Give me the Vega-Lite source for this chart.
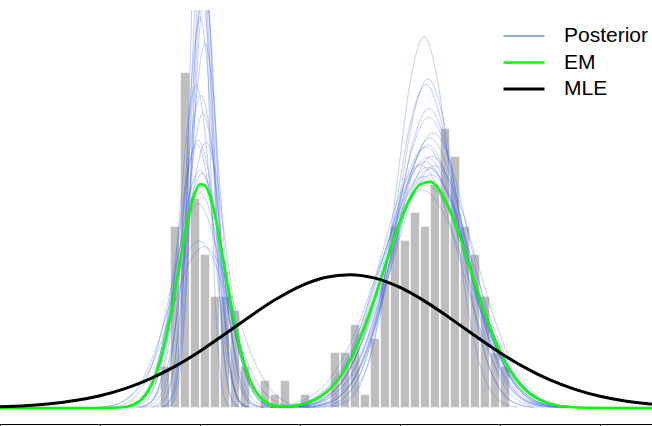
{
"$schema":"https://vega.github.io/schema/vega-lite/v6.json",
"width":652,"height":414,
"autosize":{"type":"none"},
"padding":{"top":10,"left":0,"right":0,"bottom":2},
"config":{"view":{"stroke":null}},
"datasets":{
"hist":[
{"b0":1.6,"b1":1.7,"d":0.1103},{"b0":1.7,"b1":1.8,"d":0.4779},{"b0":1.8,"b1":1.9,"d":0.8824},{"b0":1.9,"b1":2.0,"d":0.5515},{"b0":2.0,"b1":2.1,"d":0.4044},{"b0":2.1,"b1":2.2,"d":0.2941},{"b0":2.2,"b1":2.3,"d":0.2941},{"b0":2.3,"b1":2.4,"d":0.2574},{"b0":2.4,"b1":2.5,"d":0.1103},{"b0":2.6,"b1":2.7,"d":0.0735},{"b0":2.7,"b1":2.8,"d":0.0368},{"b0":2.8,"b1":2.9,"d":0.0735},{"b0":3.0,"b1":3.1,"d":0.0368},{"b0":3.3,"b1":3.4,"d":0.1471},{"b0":3.4,"b1":3.5,"d":0.1471},{"b0":3.5,"b1":3.6,"d":0.2206},{"b0":3.6,"b1":3.7,"d":0.0368},{"b0":3.7,"b1":3.8,"d":0.1838},{"b0":3.8,"b1":3.9,"d":0.3309},{"b0":3.9,"b1":4.0,"d":0.4779},{"b0":4.0,"b1":4.1,"d":0.4412},{"b0":4.1,"b1":4.2,"d":0.5147},{"b0":4.2,"b1":4.3,"d":0.4779},{"b0":4.3,"b1":4.4,"d":0.5882},{"b0":4.4,"b1":4.5,"d":0.7353},{"b0":4.5,"b1":4.6,"d":0.6618},{"b0":4.6,"b1":4.7,"d":0.4779},{"b0":4.7,"b1":4.8,"d":0.4044},{"b0":4.8,"b1":4.9,"d":0.2941},{"b0":4.9,"b1":5.0,"d":0.1471},{"b0":5.0,"b1":5.1,"d":0.1103}
],
"em":[
{"series":"EM","x":0,"y":0},{"series":"EM","x":0.5,"y":0},{"series":"EM","x":1.0,"y":0.0001},{"series":"EM","x":1.2,"y":0.0014},{"series":"EM","x":1.3,"y":0.0056},{"series":"EM","x":1.4,"y":0.0187},{"series":"EM","x":1.5,"y":0.0521},{"series":"EM","x":1.6,"y":0.1212},{"series":"EM","x":1.65,"y":0.1728},{"series":"EM","x":1.7,"y":0.2356},{"series":"EM","x":1.75,"y":0.3071},{"series":"EM","x":1.8,"y":0.3826},{"series":"EM","x":1.85,"y":0.4556},{"series":"EM","x":1.9,"y":0.5187},{"series":"EM","x":1.95,"y":0.5646},{"series":"EM","x":2.0,"y":0.5874},{"series":"EM","x":2.05,"y":0.5842},{"series":"EM","x":2.1,"y":0.5555},{"series":"EM","x":2.15,"y":0.5049},{"series":"EM","x":2.2,"y":0.4387},{"series":"EM","x":2.25,"y":0.3644},{"series":"EM","x":2.3,"y":0.2894},{"series":"EM","x":2.35,"y":0.2196},{"series":"EM","x":2.4,"y":0.1595},{"series":"EM","x":2.5,"y":0.0735},{"series":"EM","x":2.6,"y":0.0286},{"series":"EM","x":2.7,"y":0.01},{"series":"EM","x":2.8,"y":0.0045},{"series":"EM","x":2.9,"y":0.0048},{"series":"EM","x":3.0,"y":0.0087},{"series":"EM","x":3.1,"y":0.0163},{"series":"EM","x":3.2,"y":0.0293},{"series":"EM","x":3.3,"y":0.05},{"series":"EM","x":3.4,"y":0.081},{"series":"EM","x":3.5,"y":0.1246},{"series":"EM","x":3.6,"y":0.1819},{"series":"EM","x":3.7,"y":0.252},{"series":"EM","x":3.8,"y":0.3314},{"series":"EM","x":3.9,"y":0.4135},{"series":"EM","x":4.0,"y":0.4897},{"series":"EM","x":4.1,"y":0.5503},{"series":"EM","x":4.2,"y":0.5868},{"series":"EM","x":4.3,"y":0.594},{"series":"EM","x":4.4,"y":0.5705},{"series":"EM","x":4.5,"y":0.52},{"series":"EM","x":4.6,"y":0.4498},{"series":"EM","x":4.7,"y":0.3693},{"series":"EM","x":4.8,"y":0.2877},{"series":"EM","x":4.9,"y":0.2127},{"series":"EM","x":5.0,"y":0.1493},{"series":"EM","x":5.1,"y":0.0994},{"series":"EM","x":5.2,"y":0.0628},{"series":"EM","x":5.3,"y":0.0377},{"series":"EM","x":5.4,"y":0.0214},{"series":"EM","x":5.5,"y":0.0116},{"series":"EM","x":5.7,"y":0.0029},{"series":"EM","x":5.9,"y":0.0006},{"series":"EM","x":6.1,"y":0.0001},{"series":"EM","x":6.3,"y":0},{"series":"EM","x":6.52,"y":0}
],
"mle":[
{"series":"\u00a0MLE","x":0,"y":0.0032},{"series":"\u00a0MLE","x":0.25,"y":0.0062},{"series":"\u00a0MLE","x":0.5,"y":0.0112},{"series":"\u00a0MLE","x":0.75,"y":0.0195},{"series":"\u00a0MLE","x":1.0,"y":0.0323},{"series":"\u00a0MLE","x":1.25,"y":0.0509},{"series":"\u00a0MLE","x":1.5,"y":0.0765},{"series":"\u00a0MLE","x":1.75,"y":0.1094},{"series":"\u00a0MLE","x":2.0,"y":0.1493},{"series":"\u00a0MLE","x":2.25,"y":0.1941},{"series":"\u00a0MLE","x":2.5,"y":0.2405},{"series":"\u00a0MLE","x":2.75,"y":0.284},{"series":"\u00a0MLE","x":3.0,"y":0.3196},{"series":"\u00a0MLE","x":3.25,"y":0.3427},{"series":"\u00a0MLE","x":3.5,"y":0.3502},{"series":"\u00a0MLE","x":3.75,"y":0.3411},{"series":"\u00a0MLE","x":4.0,"y":0.3165},{"series":"\u00a0MLE","x":4.25,"y":0.28},{"series":"\u00a0MLE","x":4.5,"y":0.236},{"series":"\u00a0MLE","x":4.75,"y":0.1896},{"series":"\u00a0MLE","x":5.0,"y":0.1451},{"series":"\u00a0MLE","x":5.25,"y":0.1059},{"series":"\u00a0MLE","x":5.5,"y":0.0736},{"series":"\u00a0MLE","x":5.75,"y":0.0488},{"series":"\u00a0MLE","x":6.0,"y":0.0308},{"series":"\u00a0MLE","x":6.25,"y":0.0185},{"series":"\u00a0MLE","x":6.5,"y":0.0106},{"series":"\u00a0MLE","x":6.52,"y":0.0101}
],
"post":[
{"g":"1a","x":1.25,"y":0.0013},{"g":"1a","x":1.36,"y":0.0068},{"g":"1a","x":1.47,"y":0.0271},{"g":"1a","x":1.58,"y":0.0834},{"g":"1a","x":1.69,"y":0.2002},{"g":"1a","x":1.8,"y":0.3739},{"g":"1a","x":1.91,"y":0.5441},{"g":"1a","x":2.02,"y":0.6165},{"g":"1a","x":2.13,"y":0.5441},{"g":"1a","x":2.24,"y":0.3739},{"g":"1a","x":2.35,"y":0.2002},{"g":"1a","x":2.46,"y":0.0834},{"g":"1a","x":2.57,"y":0.0271},{"g":"1a","x":2.68,"y":0.0068},{"g":"1a","x":2.79,"y":0.0013},
{"g":"2a","x":1.51,"y":0.0022},{"g":"2a","x":1.58,"y":0.0114},{"g":"2a","x":1.65,"y":0.0451},{"g":"2a","x":1.72,"y":0.1388},{"g":"2a","x":1.79,"y":0.3331},{"g":"2a","x":1.86,"y":0.6223},{"g":"2a","x":1.93,"y":0.9054},{"g":"2a","x":2.0,"y":1.026},{"g":"2a","x":2.07,"y":0.9054},{"g":"2a","x":2.14,"y":0.6223},{"g":"2a","x":2.21,"y":0.3331},{"g":"2a","x":2.28,"y":0.1388},{"g":"2a","x":2.35,"y":0.0451},{"g":"2a","x":2.42,"y":0.0114},{"g":"2a","x":2.49,"y":0.0022},
{"g":"3a","x":1.63,"y":0.0024},{"g":"3a","x":1.69,"y":0.0122},{"g":"3a","x":1.75,"y":0.0482},{"g":"3a","x":1.81,"y":0.1484},{"g":"3a","x":1.87,"y":0.3562},{"g":"3a","x":1.93,"y":0.6653},{"g":"3a","x":1.99,"y":0.9681},{"g":"3a","x":2.05,"y":1.097},{"g":"3a","x":2.11,"y":0.9681},{"g":"3a","x":2.17,"y":0.6653},{"g":"3a","x":2.23,"y":0.3562},{"g":"3a","x":2.29,"y":0.1484},{"g":"3a","x":2.35,"y":0.0482},{"g":"3a","x":2.41,"y":0.0122},{"g":"3a","x":2.47,"y":0.0024},
{"g":"4a","x":1.07,"y":0.0012},{"g":"4a","x":1.2,"y":0.006},{"g":"4a","x":1.33,"y":0.0236},{"g":"4a","x":1.46,"y":0.0727},{"g":"4a","x":1.59,"y":0.1744},{"g":"4a","x":1.72,"y":0.3257},{"g":"4a","x":1.85,"y":0.4739},{"g":"4a","x":1.98,"y":0.537},{"g":"4a","x":2.11,"y":0.4739},{"g":"4a","x":2.24,"y":0.3257},{"g":"4a","x":2.37,"y":0.1744},{"g":"4a","x":2.5,"y":0.0727},{"g":"4a","x":2.63,"y":0.0236},{"g":"4a","x":2.76,"y":0.006},{"g":"4a","x":2.89,"y":0.0012},
{"g":"5a","x":1.68,"y":0.0028},{"g":"5a","x":1.73,"y":0.0142},{"g":"5a","x":1.78,"y":0.0561},{"g":"5a","x":1.83,"y":0.1728},{"g":"5a","x":1.88,"y":0.4146},{"g":"5a","x":1.93,"y":0.7745},{"g":"5a","x":1.98,"y":1.127},{"g":"5a","x":2.03,"y":1.277},{"g":"5a","x":2.08,"y":1.127},{"g":"5a","x":2.13,"y":0.7745},{"g":"5a","x":2.18,"y":0.4146},{"g":"5a","x":2.23,"y":0.1728},{"g":"5a","x":2.28,"y":0.0561},{"g":"5a","x":2.33,"y":0.0142},{"g":"5a","x":2.38,"y":0.0028},
{"g":"6a","x":1.38,"y":0.0018},{"g":"6a","x":1.47,"y":0.0091},{"g":"6a","x":1.56,"y":0.036},{"g":"6a","x":1.65,"y":0.1109},{"g":"6a","x":1.74,"y":0.2663},{"g":"6a","x":1.83,"y":0.4973},{"g":"6a","x":1.92,"y":0.7237},{"g":"6a","x":2.01,"y":0.82},{"g":"6a","x":2.1,"y":0.7237},{"g":"6a","x":2.19,"y":0.4973},{"g":"6a","x":2.28,"y":0.2663},{"g":"6a","x":2.37,"y":0.1109},{"g":"6a","x":2.46,"y":0.036},{"g":"6a","x":2.55,"y":0.0091},{"g":"6a","x":2.64,"y":0.0018},
{"g":"7a","x":1.4,"y":0.0019},{"g":"7a","x":1.48,"y":0.0094},{"g":"7a","x":1.56,"y":0.0373},{"g":"7a","x":1.64,"y":0.1147},{"g":"7a","x":1.72,"y":0.2753},{"g":"7a","x":1.8,"y":0.5143},{"g":"7a","x":1.88,"y":0.7484},{"g":"7a","x":1.96,"y":0.848},{"g":"7a","x":2.04,"y":0.7484},{"g":"7a","x":2.12,"y":0.5143},{"g":"7a","x":2.2,"y":0.2753},{"g":"7a","x":2.28,"y":0.1147},{"g":"7a","x":2.36,"y":0.0373},{"g":"7a","x":2.44,"y":0.0094},{"g":"7a","x":2.52,"y":0.0019},
{"g":"8a","x":1.36,"y":0.0015},{"g":"8a","x":1.46,"y":0.0078},{"g":"8a","x":1.56,"y":0.0307},{"g":"8a","x":1.66,"y":0.0944},{"g":"8a","x":1.76,"y":0.2266},{"g":"8a","x":1.86,"y":0.4233},{"g":"8a","x":1.96,"y":0.616},{"g":"8a","x":2.06,"y":0.698},{"g":"8a","x":2.16,"y":0.616},{"g":"8a","x":2.26,"y":0.4233},{"g":"8a","x":2.36,"y":0.2266},{"g":"8a","x":2.46,"y":0.0944},{"g":"8a","x":2.56,"y":0.0307},{"g":"8a","x":2.66,"y":0.0078},{"g":"8a","x":2.76,"y":0.0015},
{"g":"9a","x":1.675,"y":0.0032},{"g":"9a","x":1.72,"y":0.0163},{"g":"9a","x":1.765,"y":0.0643},{"g":"9a","x":1.81,"y":0.1979},{"g":"9a","x":1.855,"y":0.475},{"g":"9a","x":1.9,"y":0.8873},{"g":"9a","x":1.945,"y":1.291},{"g":"9a","x":1.99,"y":1.463},{"g":"9a","x":2.035,"y":1.291},{"g":"9a","x":2.08,"y":0.8873},{"g":"9a","x":2.125,"y":0.475},{"g":"9a","x":2.17,"y":0.1979},{"g":"9a","x":2.215,"y":0.0643},{"g":"9a","x":2.26,"y":0.0163},{"g":"9a","x":2.305,"y":0.0032},
{"g":"10a","x":0.92,"y":0.0009},{"g":"10a","x":1.08,"y":0.0047},{"g":"10a","x":1.24,"y":0.0186},{"g":"10a","x":1.4,"y":0.0574},{"g":"10a","x":1.56,"y":0.1377},{"g":"10a","x":1.72,"y":0.2572},{"g":"10a","x":1.88,"y":0.3742},{"g":"10a","x":2.04,"y":0.424},{"g":"10a","x":2.2,"y":0.3742},{"g":"10a","x":2.36,"y":0.2572},{"g":"10a","x":2.52,"y":0.1377},{"g":"10a","x":2.68,"y":0.0574},{"g":"10a","x":2.84,"y":0.0186},{"g":"10a","x":3.0,"y":0.0047},{"g":"10a","x":3.16,"y":0.0009},
{"g":"11a","x":1.16,"y":0.0012},{"g":"11a","x":1.28,"y":0.0063},{"g":"11a","x":1.4,"y":0.0248},{"g":"11a","x":1.52,"y":0.0764},{"g":"11a","x":1.64,"y":0.1835},{"g":"11a","x":1.76,"y":0.3427},{"g":"11a","x":1.88,"y":0.4986},{"g":"11a","x":2.0,"y":0.565},{"g":"11a","x":2.12,"y":0.4986},{"g":"11a","x":2.24,"y":0.3427},{"g":"11a","x":2.36,"y":0.1835},{"g":"11a","x":2.48,"y":0.0764},{"g":"11a","x":2.6,"y":0.0248},{"g":"11a","x":2.72,"y":0.0063},{"g":"11a","x":2.84,"y":0.0012},
{"g":"12a","x":1.565,"y":0.0023},{"g":"12a","x":1.63,"y":0.0119},{"g":"12a","x":1.695,"y":0.0472},{"g":"12a","x":1.76,"y":0.1453},{"g":"12a","x":1.825,"y":0.3487},{"g":"12a","x":1.89,"y":0.6514},{"g":"12a","x":1.955,"y":0.9478},{"g":"12a","x":2.02,"y":1.074},{"g":"12a","x":2.085,"y":0.9478},{"g":"12a","x":2.15,"y":0.6514},{"g":"12a","x":2.215,"y":0.3487},{"g":"12a","x":2.28,"y":0.1453},{"g":"12a","x":2.345,"y":0.0472},{"g":"12a","x":2.41,"y":0.0119},{"g":"12a","x":2.475,"y":0.0023},
{"g":"13a","x":1.305,"y":0.0015},{"g":"13a","x":1.4,"y":0.0077},{"g":"13a","x":1.495,"y":0.0305},{"g":"13a","x":1.59,"y":0.0938},{"g":"13a","x":1.685,"y":0.225},{"g":"13a","x":1.78,"y":0.4203},{"g":"13a","x":1.875,"y":0.6116},{"g":"13a","x":1.97,"y":0.693},{"g":"13a","x":2.065,"y":0.6116},{"g":"13a","x":2.16,"y":0.4203},{"g":"13a","x":2.255,"y":0.225},{"g":"13a","x":2.35,"y":0.0938},{"g":"13a","x":2.445,"y":0.0305},{"g":"13a","x":2.54,"y":0.0077},{"g":"13a","x":2.635,"y":0.0015},
{"g":"14a","x":1.525,"y":0.0021},{"g":"14a","x":1.6,"y":0.0106},{"g":"14a","x":1.675,"y":0.042},{"g":"14a","x":1.75,"y":0.1295},{"g":"14a","x":1.825,"y":0.3107},{"g":"14a","x":1.9,"y":0.5804},{"g":"14a","x":1.975,"y":0.8446},{"g":"14a","x":2.05,"y":0.957},{"g":"14a","x":2.125,"y":0.8446},{"g":"14a","x":2.2,"y":0.5804},{"g":"14a","x":2.275,"y":0.3107},{"g":"14a","x":2.35,"y":0.1295},{"g":"14a","x":2.425,"y":0.042},{"g":"14a","x":2.5,"y":0.0106},{"g":"14a","x":2.575,"y":0.0021},
{"g":"15a","x":1.625,"y":0.0027},{"g":"15a","x":1.68,"y":0.0137},{"g":"15a","x":1.735,"y":0.0542},{"g":"15a","x":1.79,"y":0.1668},{"g":"15a","x":1.845,"y":0.4004},{"g":"15a","x":1.9,"y":0.7478},{"g":"15a","x":1.955,"y":1.0881},{"g":"15a","x":2.01,"y":1.233},{"g":"15a","x":2.065,"y":1.0881},{"g":"15a","x":2.12,"y":0.7478},{"g":"15a","x":2.175,"y":0.4004},{"g":"15a","x":2.23,"y":0.1668},{"g":"15a","x":2.285,"y":0.0542},{"g":"15a","x":2.34,"y":0.0137},{"g":"15a","x":2.395,"y":0.0027},
{"g":"16a","x":0.94,"y":0.001},{"g":"16a","x":1.09,"y":0.0049},{"g":"16a","x":1.24,"y":0.0193},{"g":"16a","x":1.39,"y":0.0594},{"g":"16a","x":1.54,"y":0.1425},{"g":"16a","x":1.69,"y":0.2663},{"g":"16a","x":1.84,"y":0.3874},{"g":"16a","x":1.99,"y":0.439},{"g":"16a","x":2.14,"y":0.3874},{"g":"16a","x":2.29,"y":0.2663},{"g":"16a","x":2.44,"y":0.1425},{"g":"16a","x":2.59,"y":0.0594},{"g":"16a","x":2.74,"y":0.0193},{"g":"16a","x":2.89,"y":0.0049},{"g":"16a","x":3.04,"y":0.001},
{"g":"17a","x":1.435,"y":0.0017},{"g":"17a","x":1.52,"y":0.0086},{"g":"17a","x":1.605,"y":0.034},{"g":"17a","x":1.69,"y":0.1047},{"g":"17a","x":1.775,"y":0.2513},{"g":"17a","x":1.86,"y":0.4694},{"g":"17a","x":1.945,"y":0.6831},{"g":"17a","x":2.03,"y":0.774},{"g":"17a","x":2.115,"y":0.6831},{"g":"17a","x":2.2,"y":0.4694},{"g":"17a","x":2.285,"y":0.2513},{"g":"17a","x":2.37,"y":0.1047},{"g":"17a","x":2.455,"y":0.034},{"g":"17a","x":2.54,"y":0.0086},{"g":"17a","x":2.625,"y":0.0017},
{"g":"18a","x":1.245,"y":0.0015},{"g":"18a","x":1.35,"y":0.0078},{"g":"18a","x":1.455,"y":0.0309},{"g":"18a","x":1.56,"y":0.0951},{"g":"18a","x":1.665,"y":0.2283},{"g":"18a","x":1.77,"y":0.4264},{"g":"18a","x":1.875,"y":0.6204},{"g":"18a","x":1.98,"y":0.703},{"g":"18a","x":2.085,"y":0.6204},{"g":"18a","x":2.19,"y":0.4264},{"g":"18a","x":2.295,"y":0.2283},{"g":"18a","x":2.4,"y":0.0951},{"g":"18a","x":2.505,"y":0.0309},{"g":"18a","x":2.61,"y":0.0078},{"g":"18a","x":2.715,"y":0.0015},
{"g":"19a","x":1.62,"y":0.0025},{"g":"19a","x":1.68,"y":0.0126},{"g":"19a","x":1.74,"y":0.0497},{"g":"19a","x":1.8,"y":0.1529},{"g":"19a","x":1.86,"y":0.3669},{"g":"19a","x":1.92,"y":0.6853},{"g":"19a","x":1.98,"y":0.9972},{"g":"19a","x":2.04,"y":1.13},{"g":"19a","x":2.1,"y":0.9972},{"g":"19a","x":2.16,"y":0.6853},{"g":"19a","x":2.22,"y":0.3669},{"g":"19a","x":2.28,"y":0.1529},{"g":"19a","x":2.34,"y":0.0497},{"g":"19a","x":2.4,"y":0.0126},{"g":"19a","x":2.46,"y":0.0025},
{"g":"20a","x":1.195,"y":0.0014},{"g":"20a","x":1.31,"y":0.0069},{"g":"20a","x":1.425,"y":0.0274},{"g":"20a","x":1.54,"y":0.0844},{"g":"20a","x":1.655,"y":0.2026},{"g":"20a","x":1.77,"y":0.3785},{"g":"20a","x":1.885,"y":0.5507},{"g":"20a","x":2.0,"y":0.624},{"g":"20a","x":2.115,"y":0.5507},{"g":"20a","x":2.23,"y":0.3785},{"g":"20a","x":2.345,"y":0.2026},{"g":"20a","x":2.46,"y":0.0844},{"g":"20a","x":2.575,"y":0.0274},{"g":"20a","x":2.69,"y":0.0069},{"g":"20a","x":2.805,"y":0.0014},
{"g":"1b","x":2.87,"y":0.0014},{"g":"1b","x":3.07,"y":0.0073},{"g":"1b","x":3.27,"y":0.0289},{"g":"1b","x":3.47,"y":0.089},{"g":"1b","x":3.67,"y":0.2137},{"g":"1b","x":3.87,"y":0.3991},{"g":"1b","x":4.07,"y":0.5807},{"g":"1b","x":4.27,"y":0.658},{"g":"1b","x":4.47,"y":0.5807},{"g":"1b","x":4.67,"y":0.3991},{"g":"1b","x":4.87,"y":0.2137},{"g":"1b","x":5.07,"y":0.089},{"g":"1b","x":5.27,"y":0.0289},{"g":"1b","x":5.47,"y":0.0073},{"g":"1b","x":5.67,"y":0.0014},
{"g":"2b","x":3.04,"y":0.0016},{"g":"2b","x":3.22,"y":0.0079},{"g":"2b","x":3.4,"y":0.0312},{"g":"2b","x":3.58,"y":0.0959},{"g":"2b","x":3.76,"y":0.2302},{"g":"2b","x":3.94,"y":0.43},{"g":"2b","x":4.12,"y":0.6257},{"g":"2b","x":4.3,"y":0.709},{"g":"2b","x":4.48,"y":0.6257},{"g":"2b","x":4.66,"y":0.43},{"g":"2b","x":4.84,"y":0.2302},{"g":"2b","x":5.02,"y":0.0959},{"g":"2b","x":5.2,"y":0.0312},{"g":"2b","x":5.38,"y":0.0079},{"g":"2b","x":5.56,"y":0.0016},
{"g":"3b","x":2.7,"y":0.0013},{"g":"3b","x":2.92,"y":0.0067},{"g":"3b","x":3.14,"y":0.0267},{"g":"3b","x":3.36,"y":0.0822},{"g":"3b","x":3.58,"y":0.1973},{"g":"3b","x":3.8,"y":0.3684},{"g":"3b","x":4.02,"y":0.5361},{"g":"3b","x":4.24,"y":0.6075},{"g":"3b","x":4.46,"y":0.5361},{"g":"3b","x":4.68,"y":0.3684},{"g":"3b","x":4.9,"y":0.1973},{"g":"3b","x":5.12,"y":0.0822},{"g":"3b","x":5.34,"y":0.0267},{"g":"3b","x":5.56,"y":0.0067},{"g":"3b","x":5.78,"y":0.0013},
{"g":"4b","x":3.23,"y":0.0019},{"g":"4b","x":3.38,"y":0.0096},{"g":"4b","x":3.53,"y":0.038},{"g":"4b","x":3.68,"y":0.1169},{"g":"4b","x":3.83,"y":0.2805},{"g":"4b","x":3.98,"y":0.524},{"g":"4b","x":4.13,"y":0.7625},{"g":"4b","x":4.28,"y":0.864},{"g":"4b","x":4.43,"y":0.7625},{"g":"4b","x":4.58,"y":0.524},{"g":"4b","x":4.73,"y":0.2805},{"g":"4b","x":4.88,"y":0.1169},{"g":"4b","x":5.03,"y":0.038},{"g":"4b","x":5.18,"y":0.0096},{"g":"4b","x":5.33,"y":0.0019},
{"g":"5b","x":2.78,"y":0.0014},{"g":"5b","x":2.99,"y":0.0072},{"g":"5b","x":3.2,"y":0.0284},{"g":"5b","x":3.41,"y":0.0874},{"g":"5b","x":3.62,"y":0.2098},{"g":"5b","x":3.83,"y":0.3918},{"g":"5b","x":4.04,"y":0.5701},{"g":"5b","x":4.25,"y":0.646},{"g":"5b","x":4.46,"y":0.5701},{"g":"5b","x":4.67,"y":0.3918},{"g":"5b","x":4.88,"y":0.2098},{"g":"5b","x":5.09,"y":0.0874},{"g":"5b","x":5.3,"y":0.0284},{"g":"5b","x":5.51,"y":0.0072},{"g":"5b","x":5.72,"y":0.0014},
{"g":"6b","x":2.99,"y":0.0014},{"g":"6b","x":3.18,"y":0.0073},{"g":"6b","x":3.37,"y":0.029},{"g":"6b","x":3.56,"y":0.0894},{"g":"6b","x":3.75,"y":0.2146},{"g":"6b","x":3.94,"y":0.4009},{"g":"6b","x":4.13,"y":0.5833},{"g":"6b","x":4.32,"y":0.661},{"g":"6b","x":4.51,"y":0.5833},{"g":"6b","x":4.7,"y":0.4009},{"g":"6b","x":4.89,"y":0.2146},{"g":"6b","x":5.08,"y":0.0894},{"g":"6b","x":5.27,"y":0.029},{"g":"6b","x":5.46,"y":0.0073},{"g":"6b","x":5.65,"y":0.0014},
{"g":"7b","x":2.61,"y":0.0013},{"g":"7b","x":2.84,"y":0.0064},{"g":"7b","x":3.07,"y":0.0251},{"g":"7b","x":3.3,"y":0.0774},{"g":"7b","x":3.53,"y":0.1857},{"g":"7b","x":3.76,"y":0.3469},{"g":"7b","x":3.99,"y":0.5048},{"g":"7b","x":4.22,"y":0.572},{"g":"7b","x":4.45,"y":0.5048},{"g":"7b","x":4.68,"y":0.3469},{"g":"7b","x":4.91,"y":0.1857},{"g":"7b","x":5.14,"y":0.0774},{"g":"7b","x":5.37,"y":0.0251},{"g":"7b","x":5.6,"y":0.0064},{"g":"7b","x":5.83,"y":0.0013},
{"g":"8b","x":3.135,"y":0.0017},{"g":"8b","x":3.3,"y":0.0087},{"g":"8b","x":3.465,"y":0.0345},{"g":"8b","x":3.63,"y":0.1063},{"g":"8b","x":3.795,"y":0.2552},{"g":"8b","x":3.96,"y":0.4767},{"g":"8b","x":4.125,"y":0.6936},{"g":"8b","x":4.29,"y":0.786},{"g":"8b","x":4.455,"y":0.6936},{"g":"8b","x":4.62,"y":0.4767},{"g":"8b","x":4.785,"y":0.2552},{"g":"8b","x":4.95,"y":0.1063},{"g":"8b","x":5.115,"y":0.0345},{"g":"8b","x":5.28,"y":0.0087},{"g":"8b","x":5.445,"y":0.0017},
{"g":"9b","x":2.895,"y":0.0015},{"g":"9b","x":3.09,"y":0.0076},{"g":"9b","x":3.285,"y":0.0301},{"g":"9b","x":3.48,"y":0.0927},{"g":"9b","x":3.675,"y":0.2224},{"g":"9b","x":3.87,"y":0.4155},{"g":"9b","x":4.065,"y":0.6045},{"g":"9b","x":4.26,"y":0.685},{"g":"9b","x":4.455,"y":0.6045},{"g":"9b","x":4.65,"y":0.4155},{"g":"9b","x":4.845,"y":0.2224},{"g":"9b","x":5.04,"y":0.0927},{"g":"9b","x":5.235,"y":0.0301},{"g":"9b","x":5.43,"y":0.0076},{"g":"9b","x":5.625,"y":0.0015},
{"g":"10b","x":2.805,"y":0.0013},{"g":"10b","x":3.02,"y":0.0068},{"g":"10b","x":3.235,"y":0.0269},{"g":"10b","x":3.45,"y":0.0828},{"g":"10b","x":3.665,"y":0.1987},{"g":"10b","x":3.88,"y":0.3712},{"g":"10b","x":4.095,"y":0.5401},{"g":"10b","x":4.31,"y":0.612},{"g":"10b","x":4.525,"y":0.5401},{"g":"10b","x":4.74,"y":0.3712},{"g":"10b","x":4.955,"y":0.1987},{"g":"10b","x":5.17,"y":0.0828},{"g":"10b","x":5.385,"y":0.0269},{"g":"10b","x":5.6,"y":0.0068},{"g":"10b","x":5.815,"y":0.0013},
{"g":"11b","x":3.295,"y":0.0021},{"g":"11b","x":3.43,"y":0.0108},{"g":"11b","x":3.565,"y":0.0428},{"g":"11b","x":3.7,"y":0.1319},{"g":"11b","x":3.835,"y":0.3166},{"g":"11b","x":3.97,"y":0.5913},{"g":"11b","x":4.105,"y":0.8604},{"g":"11b","x":4.24,"y":0.975},{"g":"11b","x":4.375,"y":0.8604},{"g":"11b","x":4.51,"y":0.5913},{"g":"11b","x":4.645,"y":0.3166},{"g":"11b","x":4.78,"y":0.1319},{"g":"11b","x":4.915,"y":0.0428},{"g":"11b","x":5.05,"y":0.0108},{"g":"11b","x":5.185,"y":0.0021},
{"g":"12b","x":2.845,"y":0.0014},{"g":"12b","x":3.05,"y":0.007},{"g":"12b","x":3.255,"y":0.0278},{"g":"12b","x":3.46,"y":0.0856},{"g":"12b","x":3.665,"y":0.2054},{"g":"12b","x":3.87,"y":0.3836},{"g":"12b","x":4.075,"y":0.5582},{"g":"12b","x":4.28,"y":0.6325},{"g":"12b","x":4.485,"y":0.5582},{"g":"12b","x":4.69,"y":0.3836},{"g":"12b","x":4.895,"y":0.2054},{"g":"12b","x":5.1,"y":0.0856},{"g":"12b","x":5.305,"y":0.0278},{"g":"12b","x":5.51,"y":0.007},{"g":"12b","x":5.715,"y":0.0014},
{"g":"13b","x":3.035,"y":0.0016},{"g":"13b","x":3.22,"y":0.008},{"g":"13b","x":3.405,"y":0.0317},{"g":"13b","x":3.59,"y":0.0977},{"g":"13b","x":3.775,"y":0.2346},{"g":"13b","x":3.96,"y":0.4381},{"g":"13b","x":4.145,"y":0.6375},{"g":"13b","x":4.33,"y":0.7224},{"g":"13b","x":4.515,"y":0.6375},{"g":"13b","x":4.7,"y":0.4381},{"g":"13b","x":4.885,"y":0.2346},{"g":"13b","x":5.07,"y":0.0977},{"g":"13b","x":5.255,"y":0.0317},{"g":"13b","x":5.44,"y":0.008},{"g":"13b","x":5.625,"y":0.0016},
{"g":"14b","x":2.8,"y":0.0014},{"g":"14b","x":3.0,"y":0.0071},{"g":"14b","x":3.2,"y":0.028},{"g":"14b","x":3.4,"y":0.0863},{"g":"14b","x":3.6,"y":0.2072},{"g":"14b","x":3.8,"y":0.3869},{"g":"14b","x":4.0,"y":0.563},{"g":"14b","x":4.2,"y":0.638},{"g":"14b","x":4.4,"y":0.563},{"g":"14b","x":4.6,"y":0.3869},{"g":"14b","x":4.8,"y":0.2072},{"g":"14b","x":5.0,"y":0.0863},{"g":"14b","x":5.2,"y":0.028},{"g":"14b","x":5.4,"y":0.0071},{"g":"14b","x":5.6,"y":0.0014},
{"g":"15b","x":2.695,"y":0.0013},{"g":"15b","x":2.92,"y":0.0065},{"g":"15b","x":3.145,"y":0.0257},{"g":"15b","x":3.37,"y":0.0792},{"g":"15b","x":3.595,"y":0.19},{"g":"15b","x":3.82,"y":0.3548},{"g":"15b","x":4.045,"y":0.5163},{"g":"15b","x":4.27,"y":0.585},{"g":"15b","x":4.495,"y":0.5163},{"g":"15b","x":4.72,"y":0.3548},{"g":"15b","x":4.945,"y":0.19},{"g":"15b","x":5.17,"y":0.0792},{"g":"15b","x":5.395,"y":0.0257},{"g":"15b","x":5.62,"y":0.0065},{"g":"15b","x":5.845,"y":0.0013},
{"g":"16b","x":3.065,"y":0.0017},{"g":"16b","x":3.24,"y":0.0085},{"g":"16b","x":3.415,"y":0.0336},{"g":"16b","x":3.59,"y":0.1033},{"g":"16b","x":3.765,"y":0.248},{"g":"16b","x":3.94,"y":0.4632},{"g":"16b","x":4.115,"y":0.674},{"g":"16b","x":4.29,"y":0.7637},{"g":"16b","x":4.465,"y":0.674},{"g":"16b","x":4.64,"y":0.4632},{"g":"16b","x":4.815,"y":0.248},{"g":"16b","x":4.99,"y":0.1033},{"g":"16b","x":5.165,"y":0.0336},{"g":"16b","x":5.34,"y":0.0085},{"g":"16b","x":5.515,"y":0.0017},
{"g":"17b","x":2.88,"y":0.0014},{"g":"17b","x":3.09,"y":0.0071},{"g":"17b","x":3.3,"y":0.028},{"g":"17b","x":3.51,"y":0.0861},{"g":"17b","x":3.72,"y":0.2066},{"g":"17b","x":3.93,"y":0.386},{"g":"17b","x":4.14,"y":0.5616},{"g":"17b","x":4.35,"y":0.6364},{"g":"17b","x":4.56,"y":0.5616},{"g":"17b","x":4.77,"y":0.386},{"g":"17b","x":4.98,"y":0.2066},{"g":"17b","x":5.19,"y":0.0861},{"g":"17b","x":5.4,"y":0.028},{"g":"17b","x":5.61,"y":0.0071},{"g":"17b","x":5.82,"y":0.0014},
{"g":"18b","x":2.9,"y":0.0014},{"g":"18b","x":3.1,"y":0.007},{"g":"18b","x":3.3,"y":0.0276},{"g":"18b","x":3.5,"y":0.085},{"g":"18b","x":3.7,"y":0.2039},{"g":"18b","x":3.9,"y":0.3809},{"g":"18b","x":4.1,"y":0.5542},{"g":"18b","x":4.3,"y":0.628},{"g":"18b","x":4.5,"y":0.5542},{"g":"18b","x":4.7,"y":0.3809},{"g":"18b","x":4.9,"y":0.2039},{"g":"18b","x":5.1,"y":0.085},{"g":"18b","x":5.3,"y":0.0276},{"g":"18b","x":5.5,"y":0.007},{"g":"18b","x":5.7,"y":0.0014},
{"g":"19b","x":3.175,"y":0.0019},{"g":"19b","x":3.33,"y":0.0094},{"g":"19b","x":3.485,"y":0.0373},{"g":"19b","x":3.64,"y":0.1149},{"g":"19b","x":3.795,"y":0.2757},{"g":"19b","x":3.95,"y":0.5149},{"g":"19b","x":4.105,"y":0.7492},{"g":"19b","x":4.26,"y":0.849},{"g":"19b","x":4.415,"y":0.7492},{"g":"19b","x":4.57,"y":0.5149},{"g":"19b","x":4.725,"y":0.2757},{"g":"19b","x":4.88,"y":0.1149},{"g":"19b","x":5.035,"y":0.0373},{"g":"19b","x":5.19,"y":0.0094},{"g":"19b","x":5.345,"y":0.0019},
{"g":"20b","x":2.985,"y":0.0015},{"g":"20b","x":3.17,"y":0.0077},{"g":"20b","x":3.355,"y":0.0303},{"g":"20b","x":3.54,"y":0.0934},{"g":"20b","x":3.725,"y":0.224},{"g":"20b","x":3.91,"y":0.4185},{"g":"20b","x":4.095,"y":0.6089},{"g":"20b","x":4.28,"y":0.69},{"g":"20b","x":4.465,"y":0.6089},{"g":"20b","x":4.65,"y":0.4185},{"g":"20b","x":4.835,"y":0.224},{"g":"20b","x":5.02,"y":0.0934},{"g":"20b","x":5.205,"y":0.0303},{"g":"20b","x":5.39,"y":0.0077},{"g":"20b","x":5.575,"y":0.0015}
]
},
"layer":[
{"data":{"name":"hist"},
 "mark":{"type":"bar","color":"#bebebe","stroke":"white","strokeWidth":1.5,"clip":true},
 "encoding":{
  "x":{"field":"b0","type":"quantitative","scale":{"domain":[0,6.52],"nice":false,"zero":false},"axis":{"values":[0,1,2,3,4,5,6],"labels":false,"title":null,"grid":false,"ticks":true,"tickSize":8,"tickColor":"#000","domainColor":"#000","tickWidth":1,"domainWidth":1}},
  "x2":{"field":"b1"},
  "y":{"field":"d","type":"quantitative","scale":{"domain":[-0.042,1.045],"nice":false,"zero":false},"axis":null},
  "y2":{"datum":0}
 }},
{"data":{"name":"post"},
 "mark":{"type":"line","color":"#3f63e6","opacity":0.32,"strokeWidth":1,"interpolate":"monotone","clip":true},
 "encoding":{
  "x":{"field":"x","type":"quantitative"},
  "y":{"field":"y","type":"quantitative"},
  "detail":{"field":"g","type":"nominal"}
 }},
{"data":{"name":"em"},
 "mark":{"type":"line","interpolate":"monotone","clip":true},
 "encoding":{
  "x":{"field":"x","type":"quantitative"},
  "y":{"field":"y","type":"quantitative"},
  "color":{"field":"series","type":"nominal","scale":{"domain":["Posterior","EM","\u00a0MLE"],"range":["#8fb0d8","#00ff00","#000000"]},
   "legend":{"title":null,"orient":"none","legendX":502,"legendY":13,"padding":0,"symbolType":"stroke","symbolSize":1681,"labelOffset":18,"labelFont":"Liberation Sans","labelFontSize":21,"labelColor":"#000","clipHeight":26,"rowPadding":0.5}},
  "strokeWidth":{"field":"series","type":"nominal","scale":{"domain":["Posterior","EM","\u00a0MLE"],"range":[2,3,3]},
   "legend":{"title":null,"orient":"none","legendX":502,"legendY":13,"padding":0,"symbolType":"stroke","symbolSize":1681,"labelOffset":18,"labelFont":"Liberation Sans","labelFontSize":21,"labelColor":"#000","clipHeight":26,"rowPadding":0.5}}
 }},
{"data":{"name":"mle"},
 "mark":{"type":"line","interpolate":"monotone","clip":true},
 "encoding":{
  "x":{"field":"x","type":"quantitative"},
  "y":{"field":"y","type":"quantitative"},
  "color":{"field":"series","type":"nominal"},
  "strokeWidth":{"field":"series","type":"nominal"}
 }}
]
}
